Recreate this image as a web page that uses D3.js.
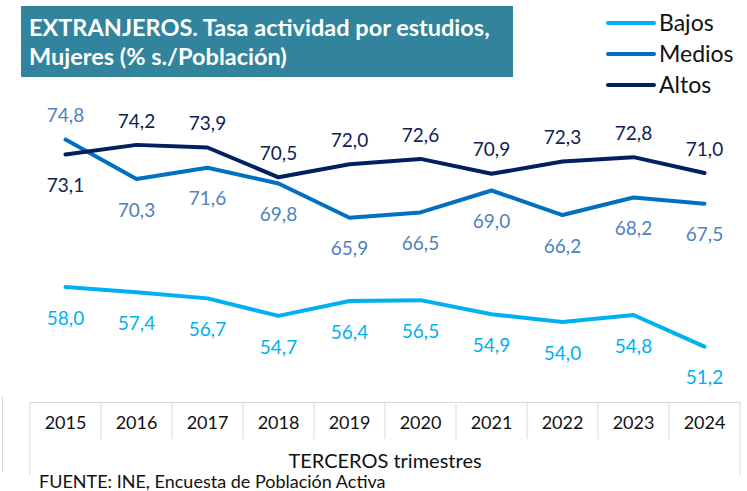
<!DOCTYPE html>
<html>
<head>
<meta charset="utf-8">
<script src="https://cdn.jsdelivr.net/npm/d3@7"></script>
<style>
  body { margin: 0; background: #fff; }
  svg { display: block; font-family: Lato, "Open Sans", sans-serif; }
</style>
</head>
<body>
<div id="chart"></div>
<script>
const years = ['2015', '2016', '2017', '2018', '2019', '2020', '2021', '2022', '2023', '2024'];
const bajos = [58.0, 57.4, 56.7, 54.7, 56.4, 56.5, 54.9, 54.0, 54.8, 51.2];
const medios = [74.8, 70.3, 71.6, 69.8, 65.9, 66.5, 69.0, 66.2, 68.2, 67.5];
const altos = [73.1, 74.2, 73.9, 70.5, 72.0, 72.6, 70.9, 72.3, 72.8, 71.0];
const seriesNames = ['Bajos', 'Medios', 'Altos'];
// where each data label sits: 1 = below, -1 = above
const medioPos = [-1, 1, 1, 1, 1, 1, 1, 1, 1, 1];
const altoPos = [1, -1, -1, -1, -1, -1, -1, -1, -1, -1];

const width = 747;
const height = 491;

const series = [
  { name: 'Bajos', values: bajos, line: '#00b0f0', label: '#00b0f0', pos: bajos.map(() => 1) },
  { name: 'Medios', values: medios, line: '#0070c0', label: '#4f81bd', pos: medioPos },
  { name: 'Altos', values: altos, line: '#002060', label: '#0d2255', pos: altoPos }
];

const xScale = d3.scaleBand()
                 .domain(years)
                 .range([30, 740])
                 .padding(0);

const yScale = d3.scaleLinear()
                 .domain([45, 80])
                 .range([401, 94]);

const fmt = v => v.toFixed(1).replace('.', ',');

const svg = d3.select('#chart')
              .append('svg')
                .attr('width', width)
                .attr('height', height);

// title box
svg.append('rect')
   .attr('x', 21)
   .attr('y', 6)
   .attr('width', 492)
   .attr('height', 71)
   .attr('fill', '#31849b');

const title = svg.append('text')
                 .attr('x', 29)
                 .attr('fill', '#fff')
                 .attr('font-weight', 'bold')
                 .attr('font-size', 23.5);
title.append('tspan').attr('x', 29).attr('y', 36).text('EXTRANJEROS. Tasa actividad por estudios,');
title.append('tspan').attr('x', 29).attr('y', 65).text('Mujeres (% s./Población)');

// legend
const legend = svg.append('g');
series.forEach((s, i) => {
  const ly = 23 + i * 31;
  legend.append('line')
        .attr('x1', 608).attr('x2', 654)
        .attr('y1', ly).attr('y2', ly)
        .attr('stroke', s.line)
        .attr('stroke-width', 4)
        .attr('stroke-linecap', 'round');
  legend.append('text')
        .attr('x', 659)
        .attr('y', ly)
        .attr('dy', '0.35em')
        .attr('font-size', 23)
        .attr('fill', '#111')
        .text(seriesNames[i]);
});

// category axis
const axisY = 402;
const axis = svg.append('g')
                .attr('transform', `translate(0, ${axisY})`)
                .call(d3.axisBottom(xScale).tickSize(0).tickPadding(14));
axis.select('.domain').attr('stroke', '#d9d9d9');
axis.selectAll('text')
    .attr('font-size', 18)
    .attr('font-family', 'Lato, sans-serif')
    .attr('fill', '#111');

// dividers between years
svg.append('g')
   .selectAll('line')
   .data(years.slice(1))
   .enter()
     .append('line')
       .attr('x1', d => xScale(d))
       .attr('x2', d => xScale(d))
       .attr('y1', axisY)
       .attr('y2', axisY + 37)
       .attr('stroke', '#d9d9d9');

// outer edges of the axis table
const edges = [xScale.range()[0], xScale.range()[1]];
svg.append('g')
   .selectAll('line')
   .data(edges)
   .enter()
     .append('line')
       .attr('x1', d => d)
       .attr('x2', d => d)
       .attr('y1', axisY)
       .attr('y2', axisY + 73)
       .attr('stroke', '#d9d9d9');

svg.append('line')
   .attr('x1', 2.5).attr('x2', 2.5)
   .attr('y1', 396).attr('y2', 472)
   .attr('stroke', '#d9d9d9');

svg.append('text')
   .attr('x', (edges[0] + edges[1]) / 2)
   .attr('y', 468)
   .attr('text-anchor', 'middle')
   .attr('font-size', 20)
   .attr('fill', '#111')
   .text('TERCEROS trimestres');

svg.append('text')
   .attr('x', 39)
   .attr('y', 488)
   .attr('font-size', 18)
   .attr('fill', '#111')
   .text('FUENTE: INE, Encuesta de Población Activa');

// lines
const cx = d => xScale(d) + xScale.bandwidth() / 2;
const line = d3.line()
               .x((v, i) => cx(years[i]))
               .y(v => yScale(v));

const plot = svg.append('g');
series.forEach(s => {
  plot.append('path')
      .datum(s.values)
      .attr('d', line)
      .attr('fill', 'none')
      .attr('stroke', s.line)
      .attr('stroke-width', 4)
      .attr('stroke-linejoin', 'round')
      .attr('stroke-linecap', 'round');
});

// data labels
series.forEach(s => {
  plot.append('g')
      .selectAll('text')
      .data(s.values)
      .enter()
        .append('text')
          .attr('x', (v, i) => cx(years[i]))
          .attr('y', (v, i) => yScale(v) + (s.pos[i] > 0 ? 31 : -24))
          .attr('dy', '0.35em')
          .attr('text-anchor', 'middle')
          .attr('font-size', 19)
          .attr('fill', s.label)
          .text(fmt);
});
</script>
</body>
</html>
